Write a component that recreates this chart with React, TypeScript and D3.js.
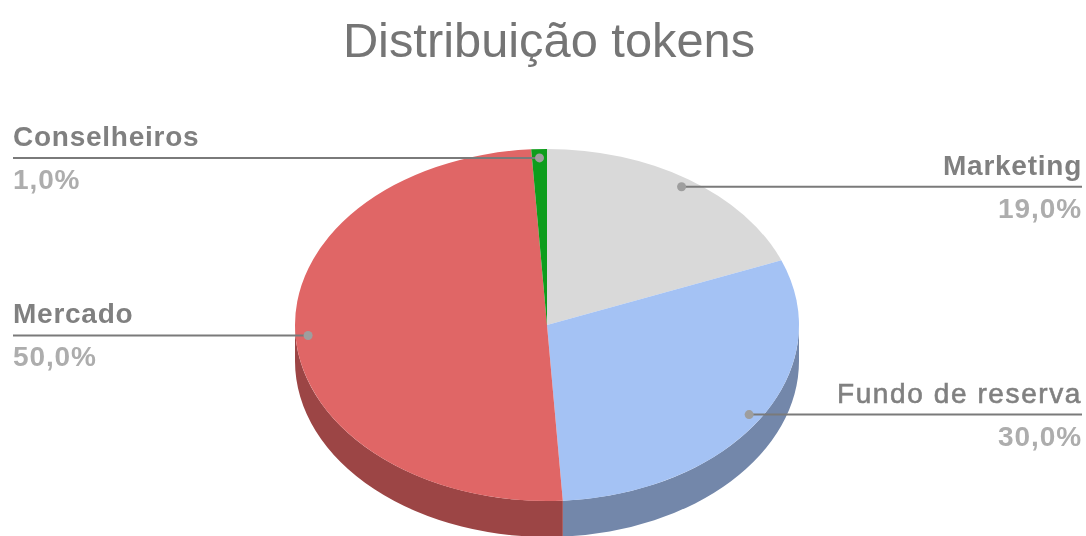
import React from "react";
import * as d3 from "d3";

const titleText = "Distribuição tokens";
const categories = ["Marketing", "Fundo de reserva", "Mercado", "Conselheiros"];
const shares = [19, 30, 50, 1];
const valueLabels = ["19,0%", "30,0%", "50,0%", "1,0%"];
const topColors = ["#d9d9d9", "#a4c2f4", "#e06666", "#0f9d1a"];
const sideColors = ["#989898", "#7387aa", "#9c4545", "#0a6e12"];
const labelSides = ["right", "right", "left", "left"];

const W = 1086, H = 536;
const cx = 547, cy = 325, rx = 252, ry = 176, depth = 36;
const labelLeft = 13, labelRight = 1082;
const font = "'Liberation Sans', Arial, sans-serif";

const pt = (a: number, k = 1): [number, number] => [cx + rx * k * Math.sin(a), cy - ry * k * Math.cos(a)];

export default function App() {
  const arcs = d3.pie<number>().sort(null).value((d) => d)(shares);
  const arcGen = d3.arc<d3.PieArcDatum<number>>().innerRadius(0).outerRadius(rx);

  const walls = arcs.map((a, i) => {
    const s = Math.max(a.startAngle, Math.PI / 2);
    const e = Math.min(a.endAngle, (3 * Math.PI) / 2);
    if (e <= s) return null;
    const [x0, y0] = pt(s);
    const [x1, y1] = pt(e);
    const large = e - s > Math.PI ? 1 : 0;
    const d = `M${x0},${y0}A${rx},${ry} 0 ${large} 1 ${x1},${y1}L${x1},${y1 + depth}A${rx},${ry} 0 ${large} 0 ${x0},${y0 + depth}Z`;
    return <path key={i} d={d} fill={sideColors[i]} />;
  });

  return (
    <svg width={W} height={H} viewBox={`0 0 ${W} ${H}`} style={{ position: "absolute", left: 0, top: 0, display: "block", background: "#fff" }}>
      <defs>
        <filter id="soft" x="0" y="0" width="100%" height="100%">
          <feGaussianBlur stdDeviation="0.75" />
        </filter>
      </defs>
      <g filter="url(#soft)">
        <rect width={W} height={H} fill="#fff" />
        <text x={549} y={57} textAnchor="middle" fontFamily={font} fontSize={48.8} fill="#757575">{titleText}</text>
        {walls}
        <g transform={`translate(${cx},${cy}) scale(1,${ry / rx})`}>
          {arcs.map((a, i) => <path key={i} d={arcGen(a) as string} fill={topColors[i]} />)}
        </g>
        {arcs.map((a, i) => {
          const mid = (a.startAngle + a.endAngle) / 2;
          const [dx, dy] = pt(mid, 0.95);
          const right = labelSides[i] === "right";
          const x = right ? labelRight : labelLeft;
          const anchor = right ? "end" : "start";
          const regular = i === 1;
          return (
            <g key={i}>
              <line x1={dx} y1={dy} x2={x} y2={dy} stroke="#7a7a7a" strokeWidth={2} />
              <circle cx={dx} cy={dy} r={4.5} fill="#9e9e9e" />
              <text x={x} y={dy - 12} textAnchor={anchor} fontFamily={font} fontSize={28} letterSpacing={regular ? 1.6 : 0.75} fontWeight={regular ? 400 : 700} fill="#808080" stroke={regular ? "#808080" : "none"} strokeWidth={regular ? 0.6 : 0}>{categories[i]}</text>
              <text x={x} y={dy + 31} textAnchor={anchor} fontFamily={font} fontSize={28} letterSpacing={0.9} fontWeight={700} fill="#adadad">{valueLabels[i]}</text>
            </g>
          );
        })}
      </g>
    </svg>
  );
}
